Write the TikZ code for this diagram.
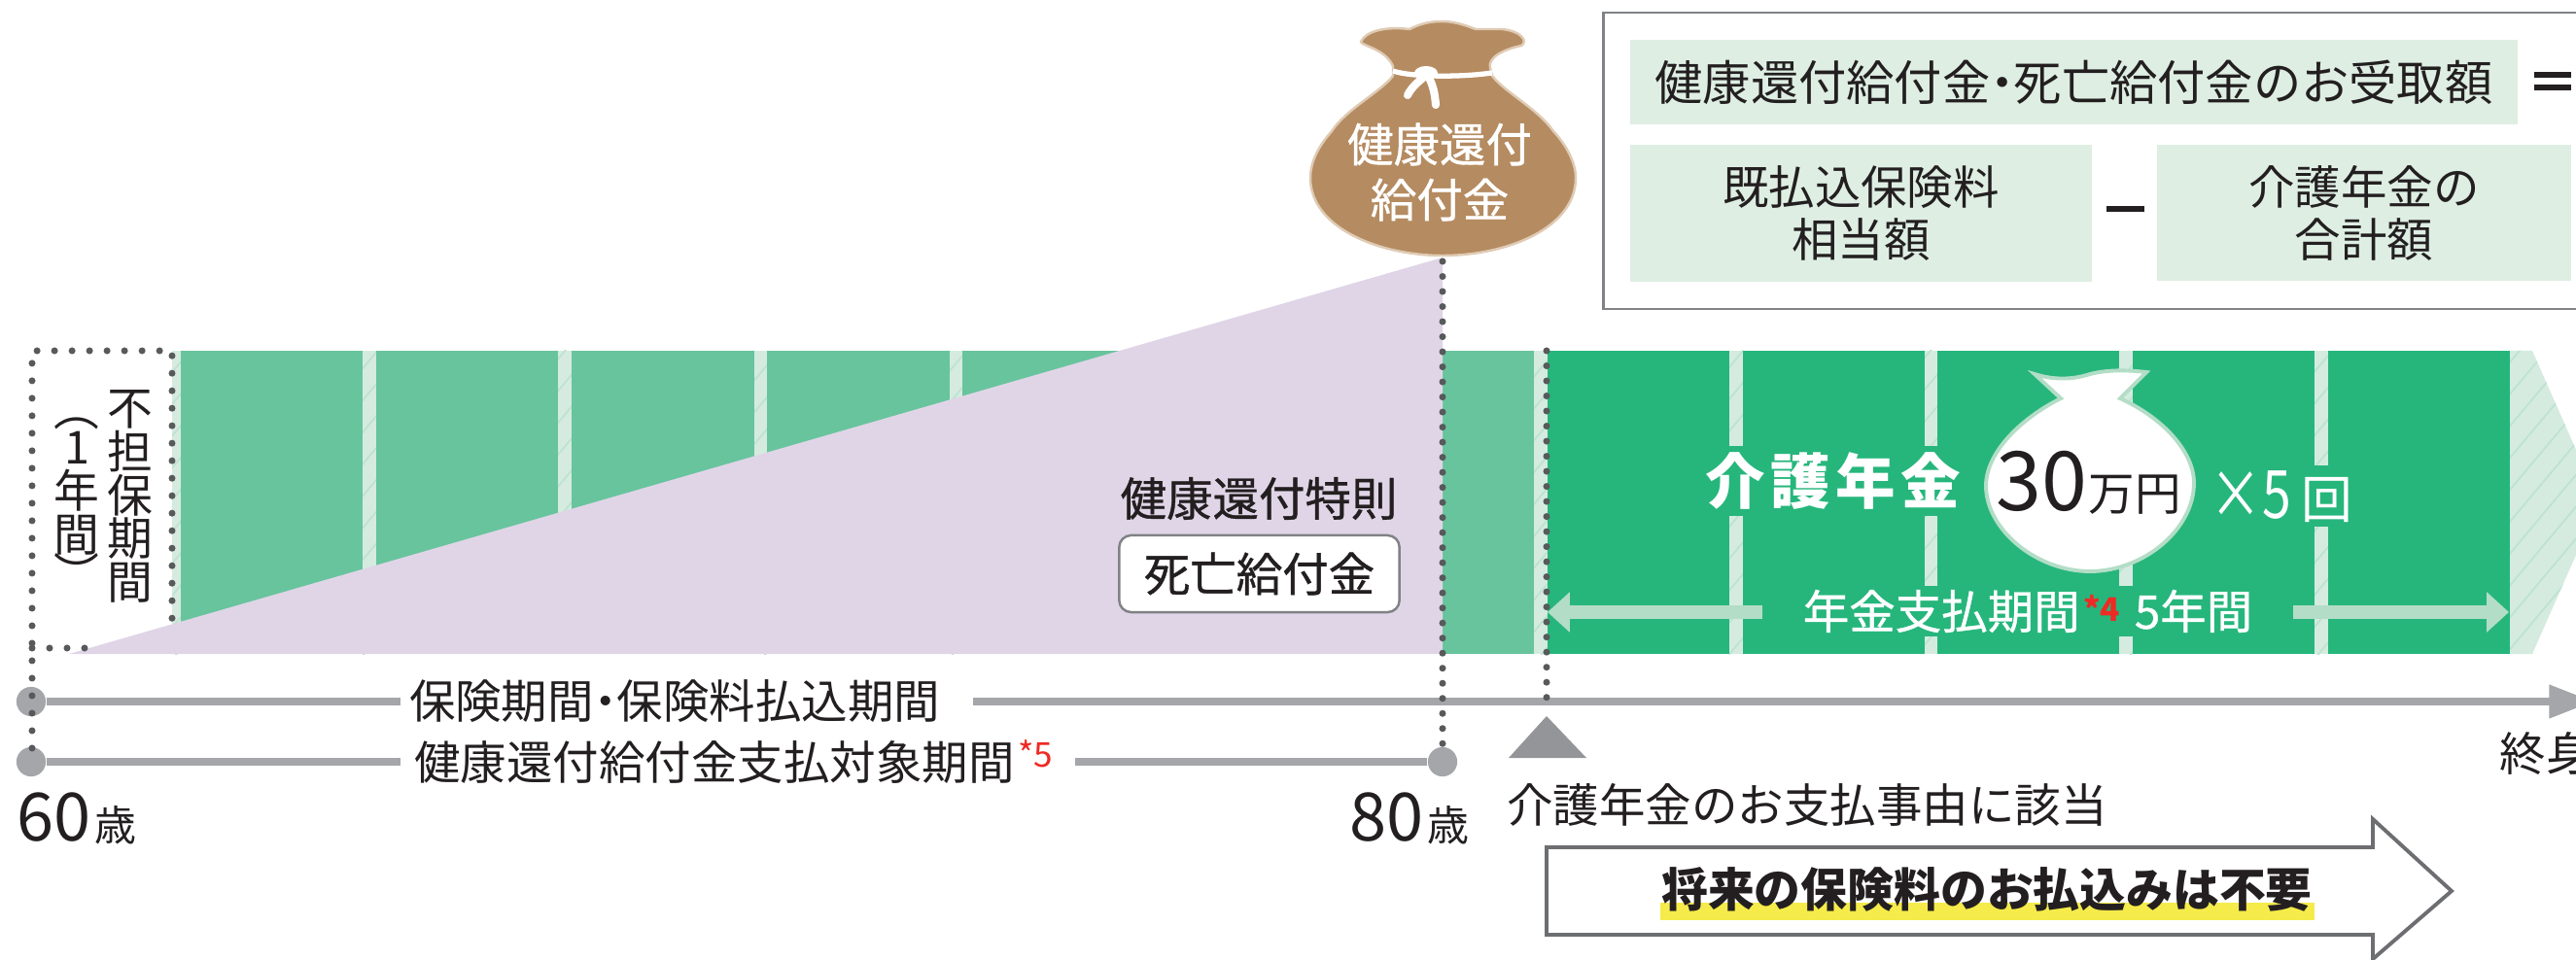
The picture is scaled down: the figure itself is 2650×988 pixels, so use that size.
\documentclass[tikz,border=0pt]{standalone}
\usepackage{fontspec}
\setmainfont{Noto Sans CJK JP}
\newfontfamily\medfont[FakeBold=0.8]{Noto Sans CJK JP}
\usetikzlibrary{arrows.meta,patterns.meta}

\definecolor{barLight}{HTML}{68C49D}
\definecolor{barDark}{HTML}{26B67C}
\definecolor{gapFill}{HTML}{D5EBE0}
\definecolor{gapLine}{HTML}{BDE3D0}
\definecolor{paleArrow}{HTML}{B3DDC6}
\definecolor{deathArea}{HTML}{E0D5E7}
\definecolor{bagBrown}{HTML}{B58B61}
\definecolor{bagEdge}{HTML}{DFCBB4}
\definecolor{boxGreen}{HTML}{DEEEE3}
\definecolor{axisGray}{HTML}{A5A6A9}
\definecolor{dotGray}{HTML}{58595B}
\definecolor{edgeGray}{HTML}{808285}
\definecolor{arrowEdge}{HTML}{6D6E71}
\definecolor{markYellow}{HTML}{F5EB4B}
\definecolor{noteRed}{HTML}{EE2A24}
\definecolor{inkBlack}{HTML}{231F20}

\newcommand{\txtS}{\fontsize{13.5}{15.4}\selectfont}
\newcommand{\txtL}{\fontsize{19.5}{22}\selectfont}
\newcommand{\txtAge}{\fontsize{12.2}{14}\selectfont}

\tikzset{
  label/.style={inner sep=0pt,text=inkBlack,font=\txtS,align=center},
  gapbar/.style={preaction={fill=gapFill},pattern={Lines[angle=50,distance=6pt,line width=0.5pt]},pattern color=gapLine},
  axisline/.style={draw=axisGray,line width=2.1pt},
  axisdot/.style={circle,fill=axisGray,inner sep=0pt,minimum size=8.6pt},
  dotline/.style={draw=dotGray,line width=2pt,line cap=round,dash pattern=on 0pt off 4.41pt},
  dotframe/.style={dotline,dash pattern=on 0pt off 5.12pt},
  palearrow/.style={draw=paleArrow,line width=4pt,-{Triangle[length=6.5pt,width=11.4pt]}},
  greenbox/.style={fill=boxGreen}
}

\begin{document}
\begin{tikzpicture}[x=0.01cm,y=-0.01cm]

\def\barTop{361}
\def\barBot{673}
\def\axisOne{722}
\def\axisTwo{784}

\useasboundingbox (0,0) rectangle (2650,988);
\clip (0,0) rectangle (2650,988);

% premium bars:
\fill[gapbar] (177,\barTop) rectangle (186,\barBot);
\foreach \xa/\xb in {373/387,574/588,776/789,977/990,1177/1191}
  \fill[gapbar] (\xa,\barTop) rectangle (\xb,\barBot);
\foreach \xa/\xb in {186/373,387/574,588/776,789/977,990/1177}
  \fill[barLight] (\xa,\barTop) rectangle (\xb,\barBot);
\fill[barLight] (1484,\barTop) rectangle (1578,\barBot);
% pension bars:
\foreach \xa/\xb in {1578/1592,1779/1793,1980/1993,2180/2194,2381/2395}
  \fill[gapbar] (\xa,\barTop) rectangle (\xb,\barBot);
\foreach \xa/\xb in {1592/1779,1793/1980,1993/2180,2194/2381,2395/2582}
  \fill[barDark] (\xa,\barTop) rectangle (\xb,\barBot);
\fill[gapbar] (2582,\barTop) -- (2605,\barTop) -- (2674,517) -- (2605,\barBot) -- (2582,\barBot) -- cycle;
% death benefit:
\fill[deathArea] (71,\barBot) -- (1484,265) -- (1484,\barBot) -- cycle;

% axes:
\node[axisdot] (startOne) at (32,\axisOne) {};
\node[axisdot] (startTwo) at (32,\axisTwo) {};
\node[axisdot] (endTwo) at (1484,\axisTwo) {};
\coordinate (oneBreakL) at (412,\axisOne);
\coordinate (oneBreakR) at (1001,\axisOne);
\coordinate (oneEnd) at (2668,\axisOne);
\coordinate (twoBreakL) at (412,\axisTwo);
\coordinate (twoBreakR) at (1106,\axisTwo);
\draw[axisline] (startOne) -- (oneBreakL);
\draw[axisline,-{Triangle[length=13pt,width=9.4pt]}] (oneBreakR) -- (oneEnd);
\draw[axisline] (startTwo) -- (twoBreakL);
\draw[axisline] (twoBreakR) -- (endTwo);
\node[label] (periodOne) at (694,\axisOne) {保険期間\kern-.25em・\kern-.25em保険料払込期間};
\node[label] (periodTwo) at (735,\axisTwo) {健康還付給付金支払対象期間};
\node[inner sep=0pt,text=noteRed,font=\fontsize{10}{11}\selectfont] (noteFive) at (1065,776) {*5};

% dotted limits:
\coordinate (boxTopL) at (33,\barTop);
\coordinate (boxTopR) at (177,\barTop);
\coordinate (boxLow) at (177,640);
\coordinate (boxDown) at (33,770);
\coordinate (boxBotL) at (33,667);
\coordinate (boxBotR) at (90,667);
\coordinate (limitTop) at (1484,269);
\coordinate (limitLow) at (1484,770);
\coordinate (payTop) at (1591,\barTop);
\coordinate (payLow) at (1591,733);
\draw[dotframe] (boxDown) -- (boxTopL) -- (boxTopR) -- (boxLow);
\draw[dotframe] (boxBotL) -- (boxBotR);
\draw[dotline] (limitTop) -- (limitLow);
\draw[dotline] (payTop) -- (payLow);

\node[label,font=\fontsize{13.3}{12.7}\selectfont] (freeOne) at (134,511) {不\\担\\保\\期\\間};
\node[label,font=\fontsize{13.3}{12.7}\selectfont] (freeTwo) at (79,519) {︵\\[-1.5pt]1\\年\\間\\[-1pt]︶};

% brown bag:
\draw[fill=bagBrown,draw=bagEdge,line width=0.7pt] (1433,78)
  .. controls (1420,95) and (1385,112) .. (1370,135)
  .. controls (1355,152) and (1348,168) .. (1348,183)
  .. controls (1348,235) and (1420,263) .. (1484,263)
  .. controls (1550,263) and (1621,235) .. (1621,183)
  .. controls (1621,168) and (1612,150) .. (1598,135)
  .. controls (1582,112) and (1548,95) .. (1535,78)
  -- (1533,70)
  .. controls (1530,58) and (1550,50) .. (1565,47)
  .. controls (1572,43) and (1566,32) .. (1545,30)
  -- (1518,30)
  .. controls (1505,25) and (1495,22) .. (1483,22)
  .. controls (1470,22) and (1460,25) .. (1450,30)
  .. controls (1425,27) and (1405,32) .. (1400,43)
  .. controls (1400,47) and (1425,50) .. (1433,68) -- cycle;
\draw[white,line width=1.5pt] (1433,73) .. controls (1450,79) and (1500,80) .. (1535,75);
\fill[white] (1467,75) ellipse (12 and 7);
\draw[white,line width=2.3pt,line cap=round] (1448,98) .. controls (1452,90) and (1458,85) .. (1464,80);
\draw[white,line width=2.3pt,line cap=round] (1477,108) .. controls (1476,95) and (1474,88) .. (1470,80);
\node[label,text=white,font=\medfont\fontsize{13.5}{16.2}\selectfont] (bagText) at (1481,177) {健康還付\\給付金};

% formula box:
\draw[draw=edgeGray,line width=0.85pt] (2700,13) -- (1649,13) -- (1649,318) -- (2700,318);
\node[greenbox,inner sep=0pt,minimum width=913*0.2845pt,minimum height=87*0.2845pt] (sumBox) at (2133.5,84.5) {};
\node[greenbox,inner sep=0pt,minimum width=475*0.2845pt,minimum height=141*0.2845pt] (paidBox) at (1914.5,219.5) {};
\node[greenbox,inner sep=0pt,minimum width=426*0.2845pt,minimum height=140*0.2845pt] (pensionBox) at (2432,219) {};
\node[label,font=\fontsize{14}{16}\selectfont] (sumText) at (sumBox) {健康還付給付金\kern-.25em・\kern-.25em死亡給付金のお受取額};
\node[label] (paidText) at (paidBox) {既払込保険料\\相当額};
\node[label] (pensionText) at (pensionBox) {介護年金の\\合計額};
\fill[inkBlack] (2607,74) rectangle (2645,80);
\fill[inkBlack] (2607,87) rectangle (2645,93);
\fill[inkBlack] (2167,212) rectangle (2206,218);

% death benefit labels:
\node[label,font=\medfont\txtS] (ruleText) at (1295,513) {健康還付特則};
\node[label,font=\medfont\txtS,fill=white,draw=edgeGray,line width=0.7pt,rounded corners=3.5pt,minimum width=82pt,minimum height=22.5pt] (deathBox) at (1295.5,590.5) {死亡給付金};

% white bag:
\draw[fill=white,draw=paleArrow,line width=1.1pt] (2093,385)
  .. controls (2115,392) and (2135,390) .. (2150,385)
  .. controls (2170,380) and (2190,381) .. (2208,383)
  -- (2181,410)
  .. controls (2225,430) and (2257,465) .. (2257,497)
  .. controls (2257,545) and (2205,588) .. (2150,588)
  .. controls (2095,588) and (2043,545) .. (2043,500)
  .. controls (2043,465) and (2080,430) .. (2120,410) -- cycle;
\node[inner sep=2pt,fill=barDark,text=white,font=\fontsize{17.5}{19}\bfseries] (pensionTitle) at (1886,495) {介\hspace{1.6pt}護\hspace{1.6pt}年\hspace{1.6pt}金};
\node[inner sep=0pt,text=inkBlack,font=\fontsize{24}{26}\selectfont,anchor=base west] (amountNum) at (2053,525) {30};
\node[inner sep=0pt,text=inkBlack,anchor=base west,font=\txtS] (amountUnit) at (2148,525) {万円};
\node[inner sep=1.5pt,fill=barDark,text=white,anchor=base west,font=\txtL] (timesText) at (2268,533) {\scalebox{.78}[1]{×5}\kern3pt{\fontsize{15}{16}\selectfont 回}};

% payment period:
\coordinate (payArrowL) at (1592,630);
\coordinate (payBreakL) at (1813,630);
\coordinate (payBreakR) at (2359,630);
\coordinate (payArrowR) at (2581,630);
\draw[palearrow] (payBreakL) -- (payArrowL);
\draw[palearrow] (payBreakR) -- (payArrowR);
\node[inner sep=1pt,fill=barDark,text=white,font=\medfont\txtS] (payPeriod) at (2086,629) {年金支払期間\hspace{16pt}5年間};
\node[inner sep=0pt,text=noteRed,font=\fontsize{9.5}{10}\bfseries] (noteFour) at (2162,626) {*4};

% lower labels:
\fill[axisGray!90!black,rounded corners=0pt] (1591,737) -- (1632,780) -- (1552,780) -- cycle;
\node[label] (eventText) at (1859,828) {介護年金のお支払事由に該当};
\node[label,anchor=west] (endText) at (2571,776) {終身};
\node[label,anchor=base west] (ageOne) at (17,865) {\txtL 60\kern1pt\txtAge 歳};
\node[label,anchor=base west] (ageTwo) at (1388,865) {\txtL 80\kern1pt\txtAge 歳};

% no premium arrow:
\draw[fill=white,draw=arrowEdge,line width=1.1pt] (1591,872) -- (2441,872) -- (2441,843) -- (2522,917) -- (2441,987) -- (2441,962) -- (1591,962) -- cycle;
\fill[markYellow] (1708,929) rectangle (2381,947);
\node[label,font=\fontsize{13.6}{15}\bfseries] (noPremium) at (2044,915) {将来の保険料のお払込みは不要};

\end{tikzpicture}
\end{document}
